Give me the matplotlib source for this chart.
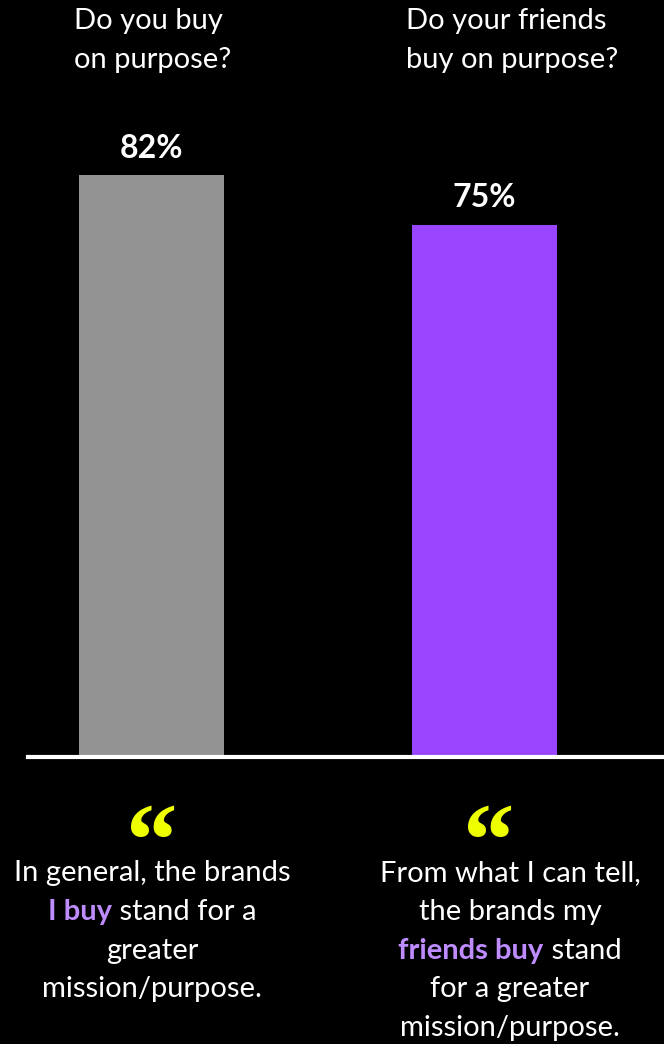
import matplotlib
matplotlib.use("Agg")
import matplotlib.pyplot as plt
from matplotlib.lines import Line2D

# data
questions = ["Do you buy\non purpose?", "Do your friends\nbuy on purpose?"]
values = [82, 75]
bar_colors = ["#939393", "#9945ff"]
quotes = [
    [[("In general, the brands", "w")],
     [("I buy", "h"), (" stand for a", "w")],
     [("greater", "w")],
     [("mission/purpose.", "w")]],
    [[("From what I can tell,", "w")],
     [("the brands my", "w")],
     [("friends buy", "h"), (" stand", "w")],
     [("for a greater", "w")],
     [("mission/purpose.", "w")]],
]

W, H = 664, 1044
FONT = ["Lato", "DejaVu Sans"]
HILITE = "#bf8cff"
YELLOW = "#eeff00"


def fx(x):
    return x / W


def fy(y):
    return 1 - y / H


fig = plt.figure(figsize=(W / 100, H / 100), dpi=100, facecolor="black")
# axes spans full width, from bar base (y=755) to top of tallest bar (y=175)
ax = fig.add_axes([0, fy(755), 1, (755 - 175) / H])
ax.set_facecolor("black")
pos = [0, 1]
ax.bar(pos, values, width=0.435, color=bar_colors)
ax.set_xlim(-0.455, 1.539)
ax.set_ylim(0, max(values))
ax.axis("off")

# baseline
fig.add_artist(Line2D([fx(28), 1], [fy(757), fy(757)], color="white", lw=3))

# value labels above bars
for p, v in zip(pos, values):
    ax.annotate(f"{v}%", (p, v), xytext=(0, 9), textcoords="offset points",
                ha="center", va="bottom", color="white", fontsize=23,
                fontweight="bold", family=FONT)

# questions at top
q_x = [74, 406]
for x, q in zip(q_x, questions):
    fig.text(fx(x), fy(8), q, ha="left", va="top", color="white",
             fontsize=21, family=FONT, linespacing=1.6)

# quote marks
quote_x = [152, 489]
for x in quote_x:
    fig.text(fx(x), fy(875), "\u201c", ha="center", va="baseline",
             color=YELLOW, fontsize=74, fontweight="bold",
             family=["Liberation Serif"])

# quote text, mixed colours
renderer = fig.canvas.get_renderer()
text_x = [152, 510]
line_gap = 38.8
for xc, lines in zip(text_x, quotes):
    for i, pieces in enumerate(lines):
        y = 873 + i * line_gap
        texts = []
        for s, kind in pieces:
            t = fig.text(0, fy(y), s, va="center", ha="left", fontsize=21,
                         family=FONT,
                         color=HILITE if kind == "h" else "white",
                         fontweight="bold" if kind == "h" else "normal")
            texts.append(t)
        widths = [t.get_window_extent(renderer).width for t in texts]
        x = xc - sum(widths) / 2
        for t, w in zip(texts, widths):
            t.set_x(fx(x))
            x += w

fig.savefig("out.png", dpi=100, facecolor="black")
